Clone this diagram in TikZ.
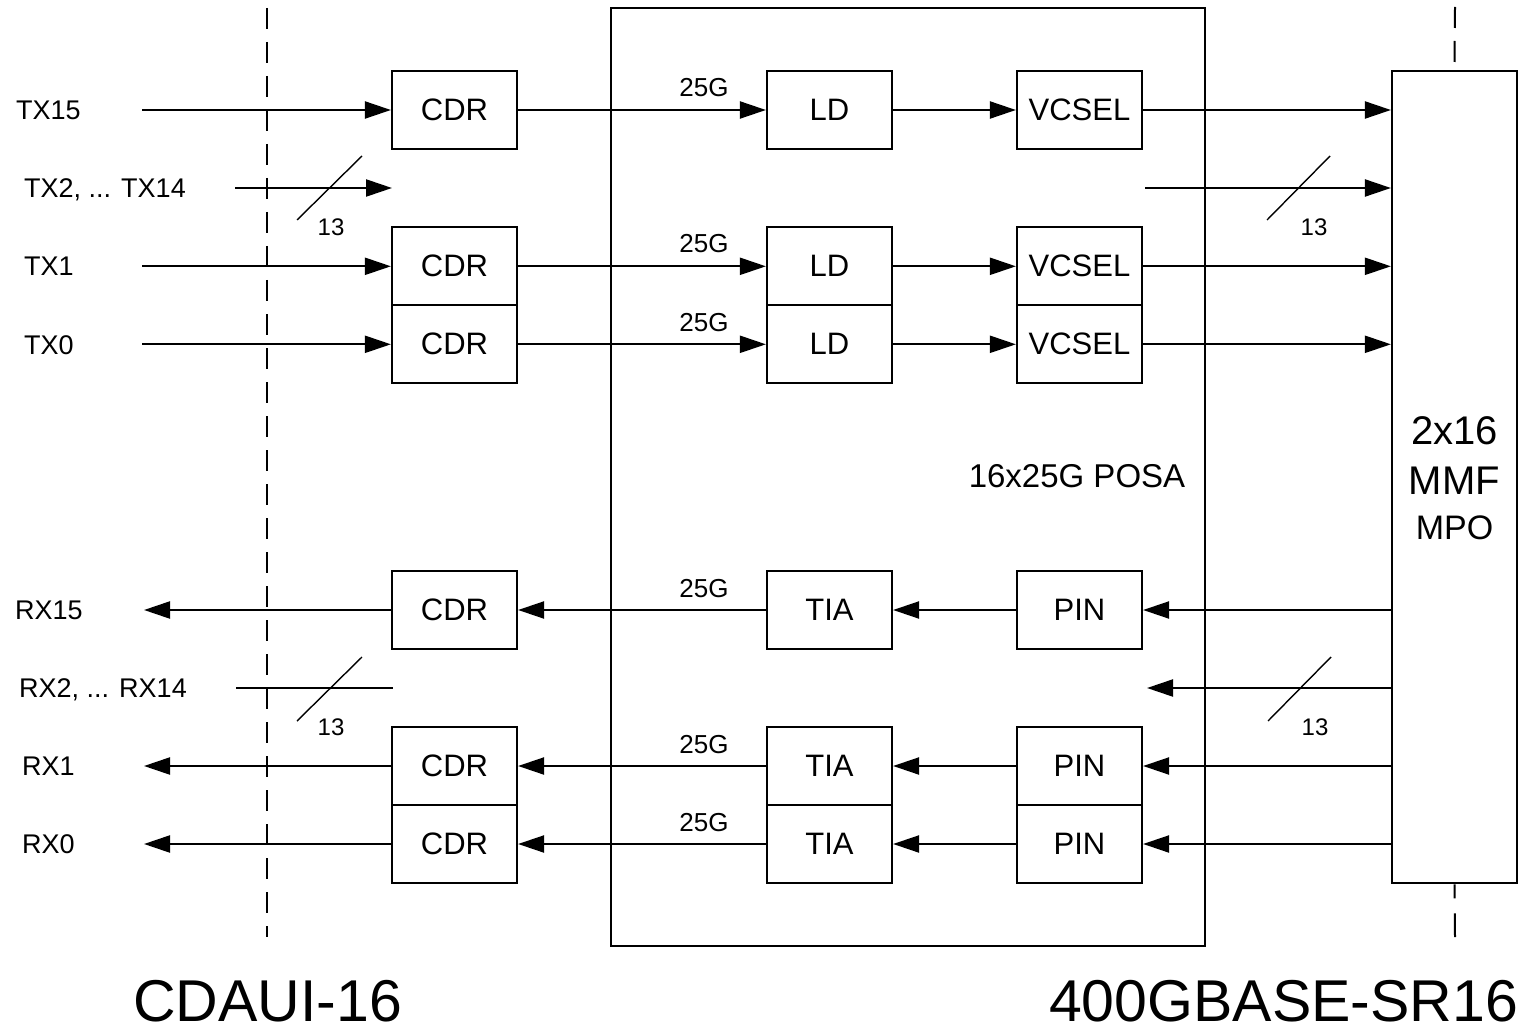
\documentclass[tikz,border=0pt]{standalone}
\usepackage{fontspec}
\setmainfont{Liberation Sans}
\usetikzlibrary{arrows.meta}
\begin{document}
\begin{tikzpicture}[x=1pt,y=-1pt,
  blk/.style={draw, line width=2.2pt, minimum width=125pt, minimum height=78pt, inner sep=0pt, font=\fontsize{31}{31}\selectfont},
  sig/.style={line width=2.2pt, -{Triangle[length=26pt,width=17pt]}},
  wire/.style={line width=2.2pt},
  lbl/.style={font=\fontsize{27}{27}\selectfont, inner sep=0pt, anchor=base west},
  rate/.style={font=\fontsize{26}{26}\selectfont, inner sep=0pt, anchor=base},
  cnt/.style={font=\fontsize{24}{24}\selectfont, inner sep=0pt},
  slashline/.style={line width=1.4pt},
  bound/.style={line width=2pt, dash pattern=on 21pt off 13pt},
  frame/.style={draw, line width=2.2pt, inner sep=0pt},
  title/.style={font=\fontsize{59}{59}\selectfont, inner sep=0pt, anchor=base}
]
\useasboundingbox (0,0) rectangle (1536,1032);

% containers
\node[frame, minimum width=594pt, minimum height=938pt] (posa) at (908,477) {};
\node[frame, minimum width=125pt, minimum height=812.6pt] (mpo) at (1454.5,477) {};
\node[font=\fontsize{33}{33}\selectfont, inner sep=0pt] (posalbl) at (1077,476) {16x25G POSA};
\node[font=\fontsize{40}{40}\selectfont, inner sep=0pt, anchor=base] (mpo1) at (1454.5,444) {2x16};
\node[font=\fontsize{40}{40}\selectfont, inner sep=0pt, anchor=base] (mpo2) at (1454.5,494) {MMF};
\node[font=\fontsize{34}{34}\selectfont, inner sep=0pt, anchor=base] (mpo3) at (1454.5,539) {MPO};

% boundaries
\coordinate (bl1) at (267,8);
\coordinate (bl2) at (267,937);
\draw[bound] (bl1) -- (bl2);
\coordinate (br1) at (1455,7);
\draw[bound] (br1) -- (mpo.north);
\coordinate (br2) at (1455,937);
\draw[line width=2pt, dash pattern=on 14pt off 15pt on 25pt off 10pt] (mpo.south) -- (br2);

% bottom titles
\node[title] (t1) at (267.5,1021) {CDAUI-16};
\node[title] (t2) at (1283.5,1021) {400GBASE-SR16};

% ---------------- TX ----------------
\node[blk] (cdr15) at (454.5,110) {CDR};
\node[blk] (ld15) at (829.5,110) {LD};
\node[blk] (vc15) at (1079.5,110) {VCSEL};
\node[blk] (cdr1) at (454.5,266.3) {CDR};
\node[blk] (ld1) at (829.5,266.3) {LD};
\node[blk] (vc1) at (1079.5,266.3) {VCSEL};
\node[blk] (cdr0) at (454.5,344.3) {CDR};
\node[blk] (ld0) at (829.5,344.3) {LD};
\node[blk] (vc0) at (1079.5,344.3) {VCSEL};

\node[lbl] (ltx15) at (16,119.5) {TX15};
\node[lbl] (ltx2) at (24,197.5) {TX2, ... TX14};
\node[lbl] (ltx1) at (24,276) {TX1};
\node[lbl] (ltx0) at (24,354) {TX0};

\coordinate (itx15) at (142,110);
\coordinate (itx1) at (142,266.3);
\coordinate (itx0) at (142,344.3);
\draw[sig] (itx15) -- (cdr15);
\draw[sig] (itx1) -- (cdr1);
\draw[sig] (itx0) -- (cdr0);

\coordinate (itx2a) at (235,188);
\coordinate (itx2b) at (392,188);
\draw[sig] (itx2a) -- (itx2b);
\coordinate (otx2a) at (1145,188);
\draw[sig] (otx2a) -- (otx2a -| mpo.west);

\foreach \r in {15,1,0}{
  \draw[sig] (cdr\r) -- (ld\r);
  \draw[sig] (ld\r) -- (vc\r);
  \draw[sig] (vc\r) -- (vc\r -| mpo.west);
}
\node[rate] (r15) at (704,97) {25G};
\node[rate] (r1) at (704,253) {25G};
\node[rate] (r0) at (704,331) {25G};

\coordinate (s1a) at (297,220); \coordinate (s1b) at (362,156);
\draw[slashline] (s1a) -- (s1b);
\node[cnt] (c1) at (331,227) {13};
\coordinate (s2a) at (1267,220); \coordinate (s2b) at (1330,156);
\draw[slashline] (s2a) -- (s2b);
\node[cnt] (c2) at (1314,227) {13};

% ---------------- RX ----------------
\node[blk] (rcdr15) at (454.5,610) {CDR};
\node[blk] (tia15) at (829.5,610) {TIA};
\node[blk] (pin15) at (1079.5,610) {PIN};
\node[blk] (rcdr1) at (454.5,766) {CDR};
\node[blk] (tia1) at (829.5,766) {TIA};
\node[blk] (pin1) at (1079.5,766) {PIN};
\node[blk] (rcdr0) at (454.5,844) {CDR};
\node[blk] (tia0) at (829.5,844) {TIA};
\node[blk] (pin0) at (1079.5,844) {PIN};

\node[lbl] (lrx15) at (15,619.5) {RX15};
\node[lbl] (lrx2) at (19,697.5) {RX2, ... RX14};
\node[lbl] (lrx1) at (22,775.5) {RX1};
\node[lbl] (lrx0) at (22,853.5) {RX0};

\coordinate (orx15) at (144,610);
\coordinate (orx1) at (144,766);
\coordinate (orx0) at (144,844);
\draw[sig] (rcdr15) -- (orx15);
\draw[sig] (rcdr1) -- (orx1);
\draw[sig] (rcdr0) -- (orx0);

\coordinate (orx2a) at (236,688);
\coordinate (orx2b) at (393,688);
\draw[wire] (orx2a) -- (orx2b);
\coordinate (irx2b) at (1147,688);
\draw[sig] (irx2b -| mpo.west) -- (irx2b);

\foreach \r in {15,1,0}{
  \draw[sig] (pin\r -| mpo.west) -- (pin\r);
  \draw[sig] (pin\r) -- (tia\r);
  \draw[sig] (tia\r) -- (rcdr\r);
}
\node[rate] (rr15) at (704,597) {25G};
\node[rate] (rr1) at (704,753) {25G};
\node[rate] (rr0) at (704,831) {25G};

\coordinate (s3a) at (297,721); \coordinate (s3b) at (362,657);
\draw[slashline] (s3a) -- (s3b);
\node[cnt] (c3) at (331,727) {13};
\coordinate (s4a) at (1268,721); \coordinate (s4b) at (1331,657);
\draw[slashline] (s4a) -- (s4b);
\node[cnt] (c4) at (1315,727) {13};
\end{tikzpicture}
\end{document}
